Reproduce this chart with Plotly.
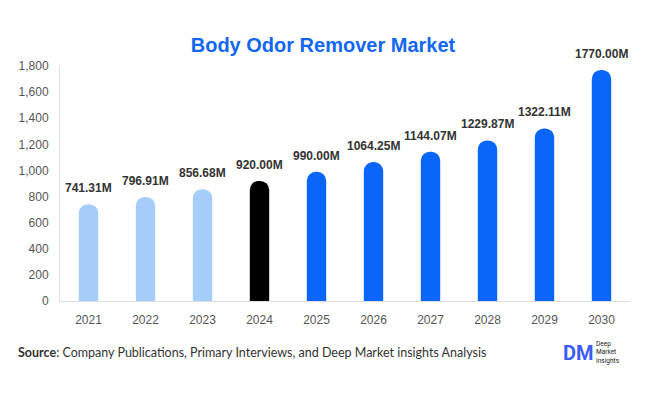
import plotly.graph_objects as go

years = ["2021", "2022", "2023", "2024", "2025", "2026", "2027", "2028", "2029", "2030"]
values = [741.31, 796.91, 856.68, 920.00, 990.00, 1064.25, 1144.07, 1229.87, 1322.11, 1770.00]
labels = ["741.31M", "796.91M", "856.68M", "920.00M", "990.00M", "1064.25M", "1144.07M", "1229.87M", "1322.11M", "1770.00M"]
colors = ["#a5cdfa"] * 3 + ["#000000"] + ["#0a66fa"] * 6
y_ticks = [0, 200, 400, 600, 800, 1000, 1200, 1400, 1600, 1800]

FONT = "Liberation Sans, Arial, sans-serif"

fig = go.Figure()
fig.add_trace(go.Bar(
    x=years, y=values, width=0.34,
    marker=dict(color=colors, cornerradius=10, line=dict(width=0)),
    cliponaxis=False, hoverinfo="skip",
))

for i, (v, lab) in enumerate(zip(values, labels)):
    fig.add_annotation(x=i, y=v, text=f"<b>{lab}</b>", showarrow=False,
                       xanchor="center", yanchor="bottom", yshift=7,
                       font=dict(family=FONT, size=12, color="#333333"))

fig.update_layout(
    width=630, height=378,
    margin=dict(l=52, r=8, t=58, b=85, autoexpand=False),
    paper_bgcolor="white", plot_bgcolor="white",
    showlegend=False,
    title=dict(text="<b>Body Odor Remover Market</b>", x=0.5, xanchor="center",
               y=0.903, yanchor="middle",
               font=dict(family=FONT, size=20, color="#1167f2")),
    font=dict(family=FONT, color="#555555", size=12),
)
fig.update_yaxes(range=[0, 1800], tickvals=y_ticks, tickformat=",", showgrid=False,
                 showline=True, linecolor="#e0e0e0", linewidth=1, ticks="",
                 ticklabelstandoff=8, zeroline=False, automargin=False,
                 tickfont=dict(family=FONT, size=12, color="#555555"))
fig.update_xaxes(type="category", categoryorder="array", categoryarray=years,
                 range=[-0.5, len(years) - 0.5],
                 showgrid=False, showline=True, linecolor="#dddddd", linewidth=1,
                 ticks="", automargin=False, ticklabelstandoff=8,
                 tickfont=dict(family=FONT, size=12, color="#555555"))

fig.add_annotation(xref="paper", yref="paper", x=-0.077, y=-0.221, xanchor="left", yanchor="middle",
                   text="<b>Source</b>: Company Publications, Primary Interviews, and Deep Market insights Analysis",
                   showarrow=False, font=dict(family="Lato, Arial", size=12.5, color="#333333"))
fig.add_annotation(xref="paper", yref="paper", x=0.909, y=-0.221, xanchor="center", yanchor="middle",
                   text="<b>DM</b>", showarrow=False,
                   font=dict(family="Roboto, Arial", size=20, color="#3b5cf5"))
fig.add_annotation(xref="paper", yref="paper", x=0.936, y=-0.221, xanchor="left", yanchor="middle",
                   text="Deep<br>Market<br>Insights", showarrow=False, align="left",
                   font=dict(family="Roboto, Arial", size=6.5, color="#222222"))

fig.write_html("out.html")
